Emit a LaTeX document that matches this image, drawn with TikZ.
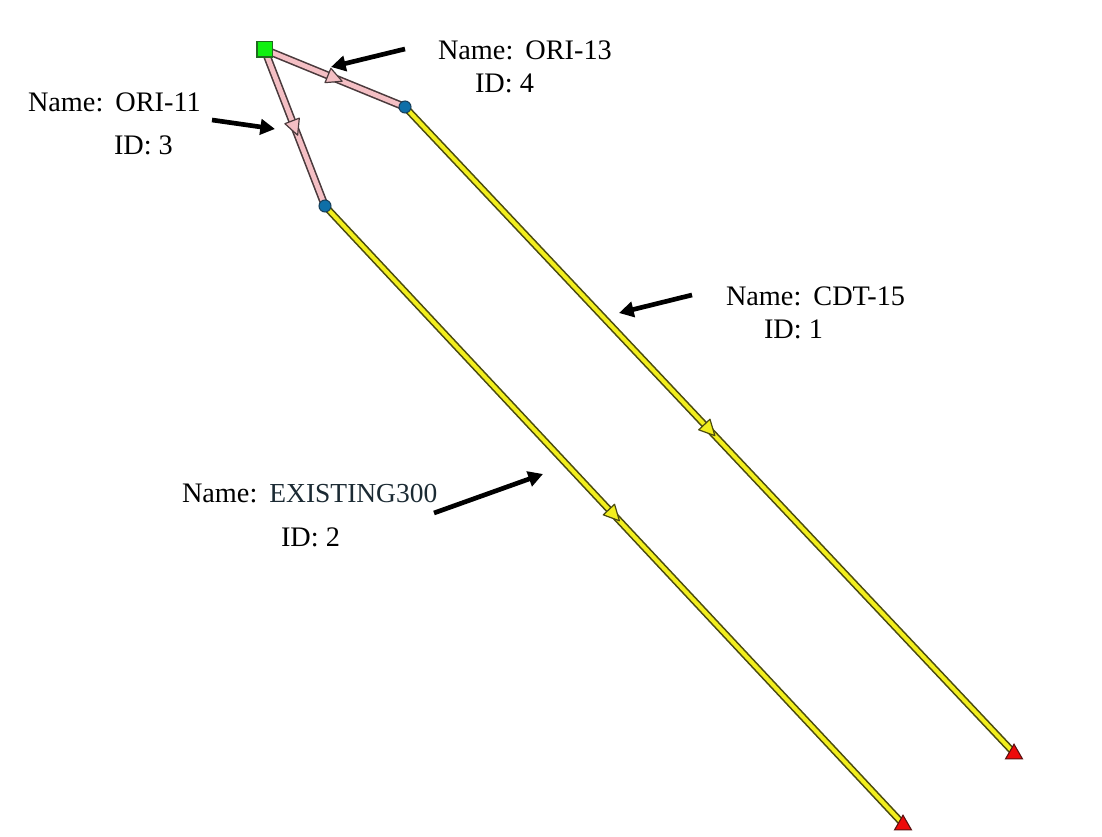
\documentclass[tikz,border=0pt]{standalone}
\usepackage{fontspec}
\setmainfont{Liberation Serif}
\usetikzlibrary{arrows.meta,decorations.markings,shapes.geometric}
\definecolor{pinkfill}{HTML}{F4BFC4}
\definecolor{pinkedge}{HTML}{4A3A3C}
\definecolor{yellowfill}{HTML}{F2EE1E}
\definecolor{yellowedge}{HTML}{4A4A10}
\definecolor{bluefill}{HTML}{0F6FA8}
\definecolor{blueedge}{HTML}{17405C}
\definecolor{greenfill}{HTML}{10F010}
\definecolor{greenedge}{HTML}{1F6B1F}
\definecolor{redfill}{HTML}{EE0A0A}
\definecolor{rededge}{HTML}{5A1010}
\definecolor{tealtext}{HTML}{1B2A33}
\tikzset{
  x=0.75pt,y=-0.75pt,
  lbl/.style={inner sep=0pt,outer sep=0pt,anchor=base west,font=\fontsize{21.2pt}{24pt}\selectfont,text=black},
  callout/.style={line width=3.5pt,black,-{Triangle[length=11pt,width=11.5pt]}},
  midtri/.style n args={3}{postaction={decorate,decoration={markings,mark=at position #1 with {
     \draw[draw=#3,fill=#2,line width=0.9pt,line join=round] (6pt,0pt) -- (-5.5pt,5.8pt) -- (-5.5pt,-5.8pt) -- cycle;}}}},
  pinkline/.style={draw=pinkedge,line width=6pt},
  pinkcore/.style={draw=pinkfill,line width=3.6pt,midtri={#1}{pinkfill}{pinkedge}},
  yellowline/.style={draw=yellowedge,line width=5.4pt},
  yellowcore/.style={draw=yellowfill,line width=3pt,midtri={#1}{yellowfill}{yellowedge}},
  source/.style={rectangle,draw=greenedge,fill=greenfill,line width=1pt,minimum size=11.5pt,inner sep=0pt},
  junction/.style={circle,draw=blueedge,fill=bluefill,line width=0.8pt,minimum size=9pt,inner sep=0pt},
  sink/.style={isosceles triangle,isosceles triangle apex angle=60,shape border rotate=90,draw=rededge,fill=redfill,line width=0.8pt,inner sep=0pt,minimum height=11pt,minimum width=11.5pt},
}
\begin{document}
\begin{tikzpicture}
\useasboundingbox (0,0) rectangle (1102,837);
\fill[white] (0,0) rectangle (1102,837);
% anchors
\coordinate (S) at (264.5,49.5);
\coordinate (J1) at (405,107);
\coordinate (J2) at (325,206);
\coordinate (E1) at (1014,753);
\coordinate (E2) at (903,824);
% connectors
\draw[yellowline] (J1) -- (E1);
\draw[yellowcore=0.5] (J1) -- (E1);
\draw[yellowline] (J2) -- (E2);
\draw[yellowcore=0.5] (J2) -- (E2);
\draw[pinkline] (S) -- (J1);
\draw[pinkcore=0.5] (S) -- (J1);
\draw[pinkline] (S) -- (J2);
\draw[pinkcore=0.5] (S) -- (J2);
% points
\node[source] (src) at (S) {};
\node[junction] (j1) at (J1) {};
\node[junction] (j2) at (J2) {};
\node[sink] (t1) at (1014,754) {};
\node[sink] (t2) at (903,825) {};
% labels
\node[lbl] (n4) at (438,60) {Name:\hspace{2pt} ORI-13};
\node[lbl] (i4) at (475,93) {ID: 4};
\node[lbl] (n3) at (28,112) {Name:\hspace{2pt} ORI-11};
\node[lbl] (i3) at (114,155) {ID: 3};
\node[lbl] (n1) at (726,306) {Name:\hspace{2pt} CDT-15};
\node[lbl] (i1) at (764,339) {ID: 1};
\node[lbl] (n2) at (182,502) {Name:\hspace{2pt} \textcolor{tealtext}{\fontsize{20.6pt}{24pt}\selectfont EXISTING300}};
\node[lbl] (i2) at (281,546) {ID: 2};
% callouts
\coordinate (a4s) at (405,49); \coordinate (a4e) at (331,67);
\coordinate (a3s) at (212,120); \coordinate (a3e) at (275,129);
\coordinate (a1s) at (692,295); \coordinate (a1e) at (619,313);
\coordinate (a2s) at (434,513); \coordinate (a2e) at (543,474);
\draw[callout] (a4s) -- (a4e);
\draw[callout] (a3s) -- (a3e);
\draw[callout] (a1s) -- (a1e);
\draw[callout] (a2s) -- (a2e);
\end{tikzpicture}
\end{document}
